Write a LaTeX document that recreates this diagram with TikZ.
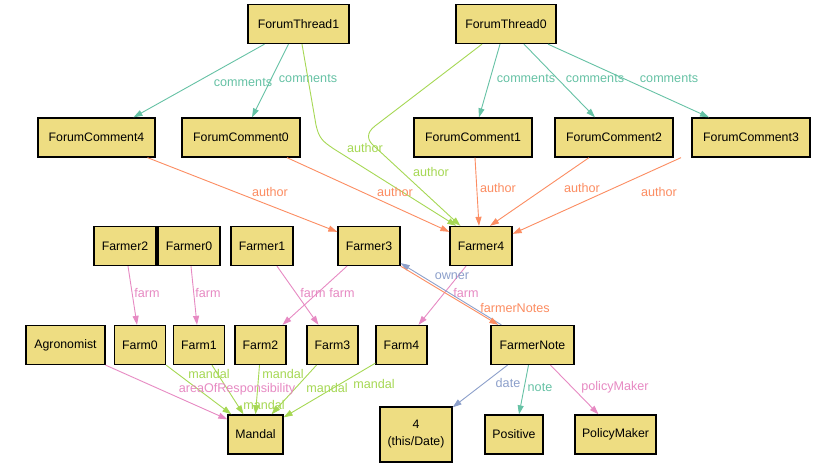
\documentclass[tikz,border=0pt]{standalone}
\usepackage{fontspec}
\setmainfont{Liberation Sans}
\usetikzlibrary{arrows.meta}
\definecolor{boxfill}{HTML}{EEDD82}
\definecolor{cteal}{HTML}{66C2A5}
\definecolor{corange}{HTML}{FC8D62}
\definecolor{cblue}{HTML}{8DA0CB}
\definecolor{cpink}{HTML}{E78AC3}
\definecolor{cgreen}{HTML}{A6D854}
\tikzset{
  box/.style={draw=black, fill=boxfill, line width=1.3pt, inner sep=0pt,
    minimum height=39pt, font=\fontsize{12.3}{17}\selectfont, align=center},
  rel/.style={line width=0.9pt, -{Triangle[length=9pt,width=6pt]}},
  lbl/.style={inner sep=0pt, font=\fontsize{12.6}{14}\selectfont},
  comments/.style={rel, cteal},
  authorA/.style={rel, corange},
  authorB/.style={rel, cgreen},
  farmrel/.style={rel, cpink},
  bluerel/.style={rel, cblue},
}
\begin{document}
\begin{tikzpicture}[x=1pt,y=-1pt]
\useasboundingbox[fill=white] (0,0) rectangle (828,468);

% forum threads
\node[box, minimum width=101pt] (FT1) at (298.5,24) {ForumThread1};
\node[box, minimum width=100pt] (FT0) at (506,24) {ForumThread0};

% forum comments
\node[box, minimum width=117pt] (FC4) at (96.5,137.5) {ForumComment4};
\node[box, minimum width=118pt] (FC0) at (241,137.5) {ForumComment0};
\node[box, minimum width=118pt] (FC1) at (473,137.5) {ForumComment1};
\node[box, minimum width=118pt] (FC2) at (614,137.5) {ForumComment2};
\node[box, minimum width=118pt] (FC3) at (751,137.5) {ForumComment3};

% farmers
\node[box, minimum width=62pt] (Fr2) at (125,246) {Farmer2};
\node[box, minimum width=62pt] (Fr0) at (189,246) {Farmer0};
\node[box, minimum width=62pt] (Fr1) at (262,246) {Farmer1};
\node[box, minimum width=62pt] (Fr3) at (369,246) {Farmer3};
\node[box, minimum width=62pt] (Fr4) at (481,246) {Farmer4};

% farms and others
\node[box, minimum width=79pt] (Agr) at (65.5,345) {Agronomist};
\node[box, minimum width=51pt] (Fm0) at (140,345) {Farm0};
\node[box, minimum width=51pt] (Fm1) at (199,345) {Farm1};
\node[box, minimum width=51pt] (Fm2) at (260.5,345) {Farm2};
\node[box, minimum width=51pt] (Fm3) at (332.5,345) {Farm3};
\node[box, minimum width=51pt] (Fm4) at (401.5,345) {Farm4};
\node[box, minimum width=83pt] (Note) at (532.5,345) {FarmerNote};

% bottom row
\node[box, minimum width=55pt] (Mandal) at (255.5,434.5) {Mandal};
\node[box, minimum width=72pt, minimum height=55pt] (Date) at (416,434.5) {4\\(this/Date)};
\node[box, minimum width=58pt] (Pos) at (514,434.5) {Positive};
\node[box, minimum width=81pt] (PM) at (615.5,434.5) {PolicyMaker};

% comments
\draw[comments] ([xshift=-34pt]FT1.south) -- ([xshift=37pt]FC4.north);
\draw[comments] ([xshift=-10pt]FT1.south) -- ([xshift=11pt]FC0.north);
\draw[comments] ([xshift=-6pt]FT0.south) -- ([xshift=6pt]FC1.north);
\draw[comments] ([xshift=18pt]FT0.south) -- ([xshift=-19pt]FC2.north);
\draw[comments] ([xshift=42pt]FT0.south) -- ([xshift=-42pt]FC3.north);
\node[lbl, text=cteal] (lc4) at (243,82) {comments};
\node[lbl, text=cteal] (lc0) at (308,78) {comments};
\node[lbl, text=cteal] (lc1) at (526,78) {comments};
\node[lbl, text=cteal] (lc2) at (595,78) {comments};
\node[lbl, text=cteal] (lc3) at (669,78) {comments};

% thread authors
\draw[authorB] ([xshift=3.5pt]FT1.south) -- (316,125)
  .. controls (319,138) and (322,141) .. (334,149) -- ([xshift=7pt]Fr4.north west);
\draw[authorB] ([xshift=-24pt]FT0.south) -- (375,126)
  .. controls (366,133) and (367,140) .. (374,146) -- ([xshift=11pt]Fr4.north west);
\node[lbl, text=cgreen] (lat1) at (365,148) {author};
\node[lbl, text=cgreen] (lat0) at (431,172) {author};

% comment authors
\draw[authorA] ([xshift=51pt]FC4.south) -- ([yshift=-6pt]Fr3.north west);
\draw[authorA] ([xshift=46pt]FC0.south) -- ([yshift=-6pt]Fr4.north west);
\draw[authorA] ([xshift=2pt]FC1.south) -- ([xshift=-2pt]Fr4.north);
\draw[authorA] ([xshift=-25pt]FC2.south) -- ([xshift=9pt]Fr4.north);
\draw[authorA] ([xshift=-70pt]FC3.south) -- ([yshift=-8pt]Fr4.north east);
\node[lbl, text=corange] (la4) at (270,192) {author};
\node[lbl, text=corange] (la0) at (395,192) {author};
\node[lbl, text=corange] (la1) at (498,188) {author};
\node[lbl, text=corange] (la2) at (582,188) {author};
\node[lbl, text=corange] (la3) at (659,192) {author};

% farms
\draw[farmrel] ([xshift=3pt]Fr2.south) -- ([xshift=-3pt]Fm0.north);
\draw[farmrel] ([xshift=2pt]Fr0.south) -- ([xshift=-2pt]Fm1.north);
\draw[farmrel] ([xshift=15pt]Fr1.south) -- ([xshift=-14pt]Fm3.north);
\draw[farmrel] ([xshift=-22pt]Fr3.south) -- ([xshift=22pt]Fm2.north);
\draw[farmrel] ([xshift=-15pt]Fr4.south) -- ([xshift=17pt]Fm4.north);
\node[lbl, text=cpink] (lf0) at (147,293) {farm};
\node[lbl, text=cpink] (lf1) at (208,293) {farm};
\node[lbl, text=cpink] (lf3) at (313,293) {farm};
\node[lbl, text=cpink] (lf2) at (342,293) {farm};
\node[lbl, text=cpink] (lf4) at (466,293) {farm};

% farmer notes and owner
\draw[bluerel] ([xshift=11pt]Note.north west) -- ([yshift=3pt]Fr3.south east);
\draw[authorA] (Fr3.south east) -- ([xshift=8pt]Note.north west);
\node[lbl, text=cblue] (lown) at (452,276) {owner};
\node[lbl, text=corange] (lfn) at (515,308) {farmerNotes};

% mandal
\draw[farmrel] (Agr.south east) -- ([yshift=-5pt]Mandal.north west);
\draw[authorB] (Fm0.south east) -- ([xshift=4pt]Mandal.north west);
\draw[authorB] ([xshift=13pt]Fm1.south) -- ([xshift=-12pt]Mandal.north);
\draw[authorB] ([xshift=-1pt]Fm2.south) -- (Mandal.north);
\draw[authorB] ([xshift=-16pt]Fm3.south) -- ([xshift=16pt]Mandal.north);
\draw[authorB] ([yshift=2pt]Fm4.south west) -- ([yshift=-3pt]Mandal.north east);
\node[lbl, text=cpink] (laor) at (237,389) {areaOfResponsibility};
\node[lbl, text=cgreen] (lm0) at (209,374) {mandal};
\node[lbl, text=cgreen] (lm1) at (264,405) {mandal};
\node[lbl, text=cgreen] (lm2) at (283,374) {mandal};
\node[lbl, text=cgreen] (lm3) at (327,388) {mandal};
\node[lbl, text=cgreen] (lm4) at (374,384) {mandal};

% note details
\draw[bluerel] ([xshift=-25pt]Note.south) -- ([yshift=-1pt]Date.north east);
\draw[comments] ([xshift=-4pt]Note.south) -- ([xshift=5pt]Pos.north);
\draw[farmrel] ([xshift=18pt]Note.south) -- ([xshift=-17pt]PM.north);
\node[lbl, text=cblue] (ldate) at (508,383) {date};
\node[lbl, text=cteal] (lnote) at (540,387) {note};
\node[lbl, text=cpink] (lpm) at (615,387) {policyMaker};
\end{tikzpicture}
\end{document}
